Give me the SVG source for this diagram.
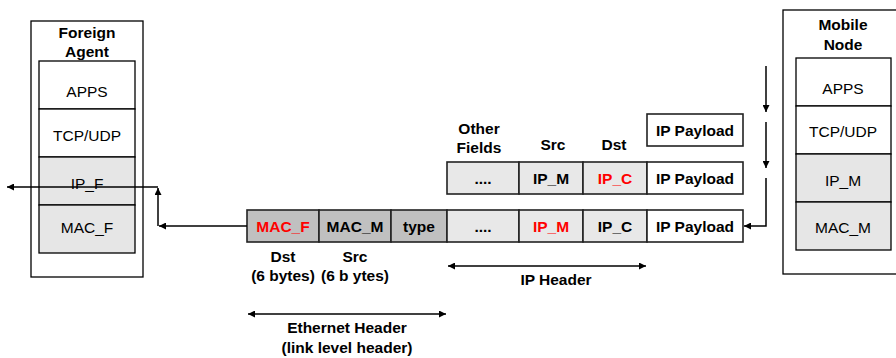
<svg xmlns="http://www.w3.org/2000/svg" width="896" height="358" viewBox="0 0 896 358">
<defs>
<marker id="ah" viewBox="0 0 10 10" refX="10" refY="5" markerWidth="7" markerHeight="7" orient="auto-start-reverse" markerUnits="userSpaceOnUse"><path d="M0,0 L10,5 L0,10 z" fill="#000"/></marker>
<style>
.box{fill:#fff;stroke:#000;stroke-width:1.3}
.w{fill:#fff;stroke:#000;stroke-width:1.3}
.g{fill:#e6e6e6;stroke:#000;stroke-width:1.3}
.cell{fill:#fff;stroke:#222;stroke-width:1.6}
.cl{fill:#e8e8e8;stroke:#222;stroke-width:1.6}
.cd{fill:#c0c0c0;stroke:#222;stroke-width:1.6}
text{font-family:"Liberation Sans",Arial,sans-serif;font-size:15.5px;text-anchor:middle;fill:#000}
.b{font-weight:bold}
.r{fill:#ff0000}
.ln{stroke:#000;stroke-width:1.5;fill:none}
</style>
</defs>

<g id="foreign-agent">
<rect class="box" x="31" y="21" width="112" height="256"/>
<text class="b" x="87" y="38">Foreign</text>
<text class="b" x="87" y="57">Agent</text>
<rect class="w" x="39" y="61" width="96" height="48"/>
<text x="87" y="97">APPS</text>
<rect class="w" x="39" y="109" width="96" height="48"/>
<text x="87" y="141">TCP/UDP</text>
<rect class="g" x="39" y="157" width="96" height="48"/>
<text x="87" y="189">IP_F</text>
<rect class="g" x="39" y="205" width="96" height="48"/>
<text x="87" y="233">MAC_F</text>
</g>

<g id="mobile-node">
<rect class="box" x="783" y="10" width="120" height="264"/>
<text class="b" x="843" y="30">Mobile</text>
<text class="b" x="843" y="50">Node</text>
<rect class="w" x="796" y="58" width="95" height="48"/>
<text x="843" y="94">APPS</text>
<rect class="w" x="796" y="106" width="95" height="48"/>
<text x="843" y="137">TCP/UDP</text>
<rect class="g" x="796" y="154" width="95" height="48"/>
<text x="843" y="186">IP_M</text>
<rect class="g" x="796" y="202" width="95" height="48"/>
<text x="843" y="233">MAC_M</text>
</g>

<g id="payload-only">
<rect class="cell" x="647" y="114" width="96" height="32"/>
<text class="b" x="695" y="136">IP Payload</text>
</g>

<g id="ip-packet">
<text class="b" x="479" y="134">Other</text>
<text class="b" x="479" y="153">Fields</text>
<text class="b" x="553" y="150">Src</text>
<text class="b" x="614" y="150">Dst</text>
<rect class="cl" x="447" y="162" width="72" height="32"/>
<text class="b" x="483" y="184">....</text>
<rect class="cl" x="519" y="162" width="64" height="32"/>
<text class="b" x="551" y="184">IP_M</text>
<rect class="cl" x="583" y="162" width="64" height="32"/>
<text class="b r" x="615" y="184">IP_C</text>
<rect class="cell" x="647" y="162" width="96" height="32"/>
<text class="b" x="695" y="184">IP Payload</text>
</g>

<g id="ethernet-frame">
<rect class="cd" x="247" y="210" width="72" height="32"/>
<text class="b r" x="283" y="232">MAC_F</text>
<rect class="cd" x="319" y="210" width="72" height="32"/>
<text class="b" x="355" y="232">MAC_M</text>
<rect class="cd" x="391" y="210" width="56" height="32"/>
<text class="b" x="419" y="232">type</text>
<rect class="cl" x="447" y="210" width="72" height="32"/>
<text class="b" x="483" y="232">....</text>
<rect class="cl" x="519" y="210" width="64" height="32"/>
<text class="b r" x="551" y="232">IP_M</text>
<rect class="cl" x="583" y="210" width="64" height="32"/>
<text class="b" x="615" y="232">IP_C</text>
<rect class="cell" x="647" y="210" width="96" height="32"/>
<text class="b" x="695" y="232">IP Payload</text>
<text class="b" x="283" y="262">Dst</text>
<text class="b" x="283" y="281">(6 bytes)</text>
<text class="b" x="355" y="262">Src</text>
<text class="b" x="355" y="281">(6 b ytes)</text>
</g>

<g id="connectors">
<line class="ln" x1="766" y1="66" x2="766" y2="112" marker-end="url(#ah)"/>
<line class="ln" x1="766" y1="122" x2="766" y2="168" marker-end="url(#ah)"/>
<polyline class="ln" points="766,178 766,226 744,226" marker-end="url(#ah)"/>
<line class="ln" x1="247" y1="226" x2="159" y2="226" marker-end="url(#ah)"/>
<line class="ln" x1="158" y1="226" x2="158" y2="188" marker-end="url(#ah)"/>
<line class="ln" x1="158" y1="187" x2="7" y2="187" marker-end="url(#ah)"/>
<line class="ln" x1="448" y1="266" x2="646" y2="266" marker-start="url(#ah)" marker-end="url(#ah)"/>
<text class="b" x="556" y="285">IP Header</text>
<line class="ln" x1="248" y1="314" x2="446" y2="314" marker-start="url(#ah)" marker-end="url(#ah)"/>
<text class="b" x="347" y="333">Ethernet Header</text>
<text class="b" x="347" y="353">(link level header)</text>
</g>
</svg>
